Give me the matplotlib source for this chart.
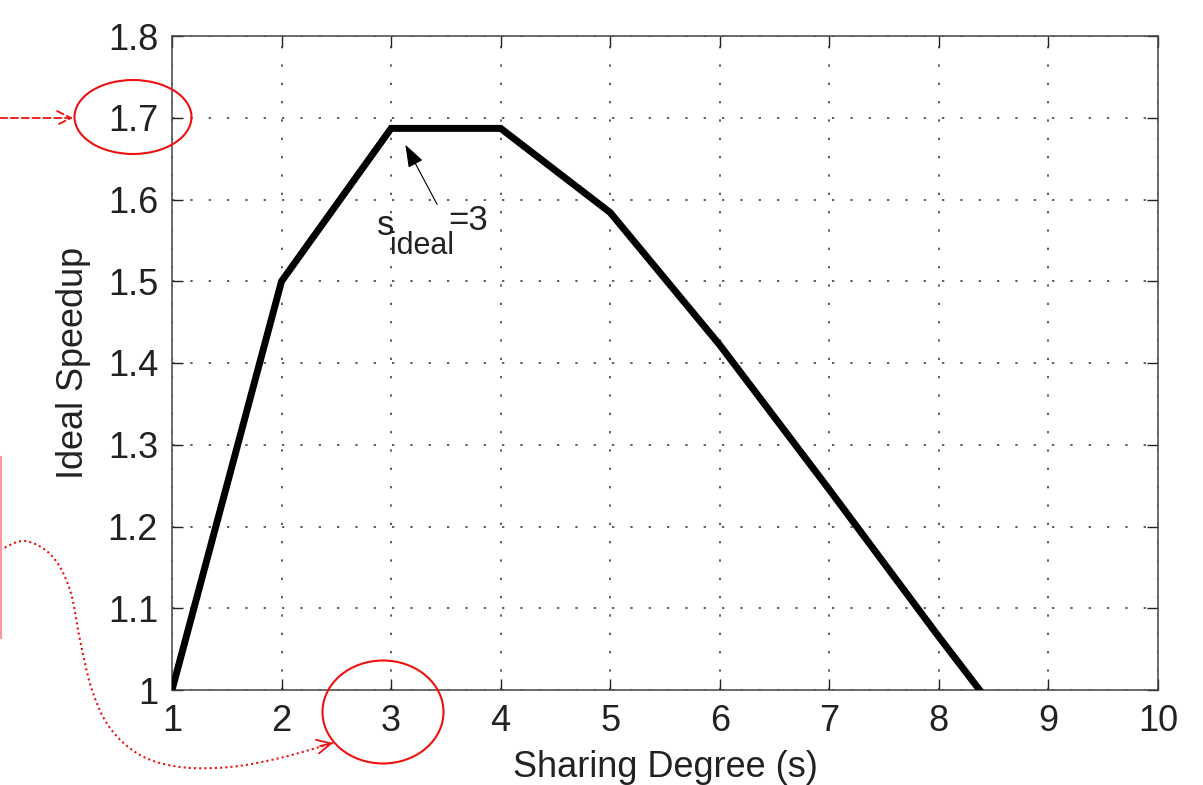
import numpy as np
import matplotlib
matplotlib.use("Agg")
import matplotlib.pyplot as plt
from matplotlib.patches import Ellipse

plt.rcParams["font.family"] = ["Liberation Sans", "DejaVu Sans"]
plt.rcParams["mathtext.default"] = "regular"

# ── data ─────────────────────────────────────────────────────────────────────
sharing_degree = [1, 2, 3, 4, 5, 6, 7, 8, 9]
ideal_speedup  = [1.0, 1.5, 1.687, 1.687, 1.584, 1.422, 1.245, 1.065, 0.89]
x_ticks = list(range(1, 11))
y_ticks = [1.0, 1.1, 1.2, 1.3, 1.4, 1.5, 1.6, 1.7, 1.8]
y_tick_labels = ["1", "1.1", "1.2", "1.3", "1.4", "1.5", "1.6", "1.7", "1.8"]

# annotation arrow (data coords): head, tail
peak_head = (3.13, 1.667)
peak_tail = (3.42, 1.594)


def catmull_rom(xs, ys, n=20):
    """Smooth path through the given points."""
    p = np.column_stack([xs, ys]).astype(float)
    p = np.vstack([p[0], p, p[-1]])
    out = []
    for i in range(1, len(p) - 2):
        p0, p1, p2, p3 = p[i - 1], p[i], p[i + 1], p[i + 2]
        t = np.linspace(0, 1, n)[:, None]
        out.append(0.5 * (2 * p1 + (-p0 + p2) * t
                          + (2 * p0 - 5 * p1 + 4 * p2 - p3) * t ** 2
                          + (-p0 + 3 * p1 - 3 * p2 + p3) * t ** 3))
    out = np.vstack(out)
    return out[:, 0], out[:, 1]


W, H = 1203, 785
fig = plt.figure(figsize=(W / 100, H / 100), dpi=100)
ax = fig.add_axes([172 / W, 1 - 690 / H, (1158 - 172) / W, (690 - 36) / H])

ax.plot(sharing_degree, ideal_speedup, color="black", linewidth=5,
        solid_joinstyle="miter", clip_on=True, zorder=3)

ax.set_xlim(1, 10)
ax.set_ylim(1, 1.8)
ax.set_xticks(x_ticks)
ax.set_yticks(y_ticks)
ax.set_yticklabels(y_tick_labels)
ax.tick_params(direction="in", length=8, width=1.0, top=True, right=True,
               labelsize=26, colors="#222222", pad=10)
ax.grid(True, color="#333333", linestyle=(0, (1.5, 10.5)), linewidth=1.1)
for sp in ax.spines.values():
    sp.set_color("#444444")
    sp.set_linewidth(1.1)

ax.set_xlabel("Sharing Degree (s)", fontsize=26, color="#222222", labelpad=8)
ax.set_ylabel("Ideal Speedup", fontsize=26, color="#222222", labelpad=12)

ax.annotate("", xy=peak_head, xytext=peak_tail,
            arrowprops=dict(arrowstyle="-|>,head_length=1.4,head_width=0.5",
                            color="black", linewidth=0.8, shrinkA=0, shrinkB=0))
ax.text(2.875, 1.588, "s", fontsize=25, color="#222222", va="top", ha="left")
ax.text(2.99, 1.562, "ideal", fontsize=22, color="#222222", va="top", ha="left")
ax.text(3.52, 1.595, "=3", fontsize=25, color="#222222", va="top", ha="left")

# ── red hand annotations (pixel coords on an overlay) ────────────────────────
ov = fig.add_axes([0, 0, 1, 1], zorder=5)
ov.set_xlim(0, W)
ov.set_ylim(H, 0)
ov.axis("off")
ov.patch.set_alpha(0)

ov.add_patch(Ellipse((133, 117), 117, 74, fill=False, edgecolor="#ee1111", lw=1.5))
ov.add_patch(Ellipse((383, 712), 121, 103, fill=False, edgecolor="#ee1111", lw=1.5))
ov.annotate("", xy=(73, 118), xytext=(0, 118),
            arrowprops=dict(arrowstyle="->,head_length=1.0,head_width=0.5",
                            color="#ee1111", lw=1.3, linestyle=(0, (4, 2)),
                            shrinkA=0, shrinkB=0))
curve_x = [0, 25, 52, 70, 80, 92, 110, 140, 180, 230, 280, 333]
curve_y = [550, 541, 556, 590, 640, 690, 728, 755, 767, 767, 758, 743]
cx, cy = catmull_rom(curve_x, curve_y)
ov.plot(cx, cy, color="#ee1111", lw=1.5, linestyle=(0, (1, 1.5)))
ov.annotate("", xy=(333, 743), xytext=(320, 746),
            arrowprops=dict(arrowstyle="->,head_length=1.0,head_width=0.5",
                            color="#ee1111", lw=1.3, shrinkA=0, shrinkB=0))
ov.plot([1, 1], [457, 638], color="#ff9999", lw=1.5)

fig.savefig("out.png", dpi=100)
